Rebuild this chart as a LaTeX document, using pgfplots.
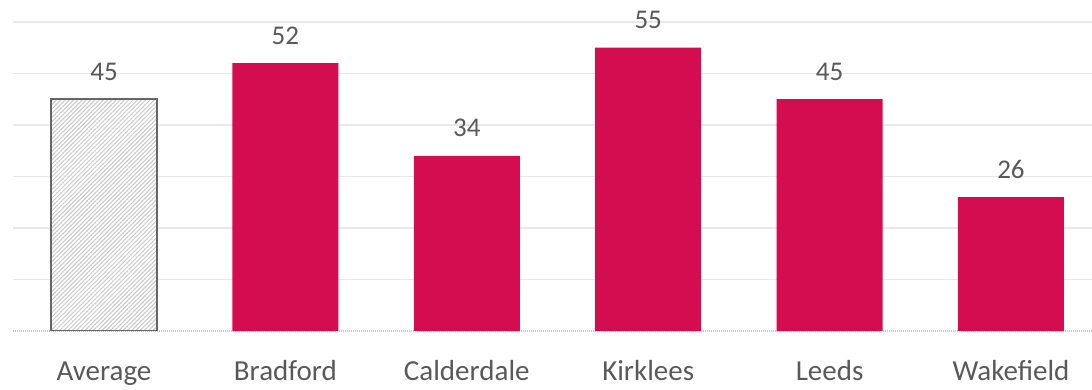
\documentclass[border=0pt]{standalone}
\usepackage{pgfplots}
\pgfplotsset{compat=1.18}
\usepackage{fontspec}
\setmainfont{Carlito}
\usetikzlibrary{patterns.meta}
\definecolor{barred}{HTML}{D40C50}
\definecolor{txt}{HTML}{595959}
\definecolor{gridc}{HTML}{E8E8E8}
\definecolor{avgborder}{HTML}{666666}
\definecolor{hatch}{HTML}{C8C8C8}
\begin{document}
\begin{tikzpicture}[x=1pt,y=1pt]
\useasboundingbox (-13.3,-59) rectangle (1078.7,331);
\begin{axis}[
  scale only axis,
  width=1079.3pt, height=309pt,
  xmin=-0.5, xmax=5.45, ymin=0, ymax=60,
  ytick={10,20,30,40,50,60}, yticklabels={},
  ymajorgrids, grid style={gridc, line width=1.5pt},
  extra y ticks={0}, extra y tick labels={},
  extra y tick style={grid style={gridc!85!black, line width=1.5pt, dash pattern=on 1pt off 1pt}},
  axis line style={draw=none},
  major tick length=0pt,
  /pgf/number format/assume math mode=true,
  xtick={0,1,2,3,4,5},
  xticklabels={Average,Bradford,Calderdale,Kirklees,Leeds,Wakefield},
  xticklabel style={font=\fontsize{29}{33}\selectfont, text=txt, anchor=base, yshift=-50pt},
  ybar, bar width=106pt, bar shift=0pt,
  nodes near coords,
  every node near coord/.append style={font=\fontsize{27}{30}\selectfont, text=txt, anchor=base, yshift=19pt},
]
\addplot[fill=white, draw=avgborder, line width=2pt,
  postaction={pattern={Lines[angle=45,distance=3pt,line width=1pt]}, pattern color=hatch}]
  coordinates {(0,45)};
\addplot[fill=barred, draw=none]
  coordinates {(1,52) (2,34) (3,55) (4,45) (5,26)};
\end{axis}
\end{tikzpicture}
\end{document}
